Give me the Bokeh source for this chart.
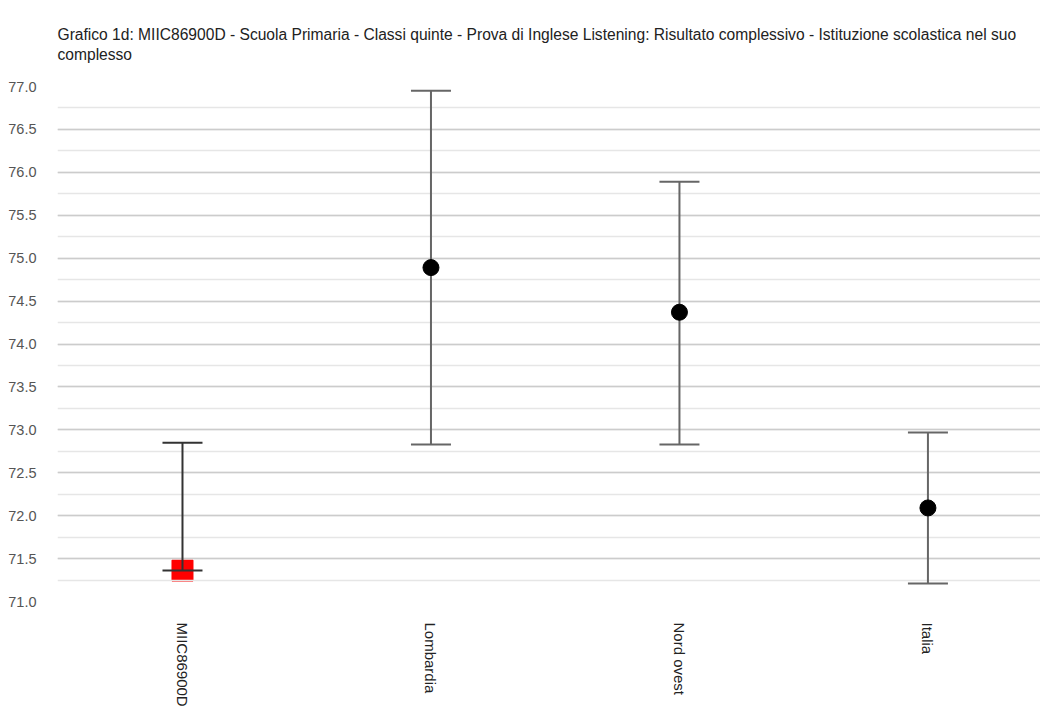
import math
from bokeh.plotting import figure
from bokeh.models import (ColumnDataSource, Range1d, FixedTicker, Whisker, TeeHead,
                          CustomJSTickFormatter)
from bokeh.embed import file_html
from bokeh.resources import INLINE

categories = ["MIIC86900D", "Lombardia", "Nord ovest", "Italia"]
values = [71.36, 74.89, 74.37, 72.09]
lower = [71.36, 72.83, 72.83, 71.21]
upper = [72.85, 76.95, 75.89, 72.97]
y_ticks = [71.0, 71.5, 72.0, 72.5, 73.0, 73.5, 74.0, 74.5, 75.0, 75.5, 76.0, 76.5, 77.0]

FONT = "Liberation Sans"
xs = list(range(len(categories)))

p = figure(width=1040, height=714, output_backend="svg", toolbar_location=None,
           x_range=Range1d(-0.503, 3.453), y_range=Range1d(71.0, 77.0),
           min_border_left=57, min_border_right=0, min_border_bottom=113,
           min_border_top=86)
p.outline_line_color = None

p.title.text = ("Grafico 1d: MIIC86900D - Scuola Primaria - Classi quinte - Prova di Inglese Listening: "
                "Risultato complessivo - Istituzione scolastica nel suo\ncomplesso")
p.title.text_font = FONT
p.title.text_font_size = "15.6px"
p.title.text_font_style = "normal"
p.title.text_color = "#222222"
p.title.text_line_height = 1.15
p.title.standoff = 47

# axes
p.yaxis.ticker = FixedTicker(ticks=y_ticks, minor_ticks=[71.0 + 0.25 * i for i in range(25)])
p.yaxis.formatter = CustomJSTickFormatter(code="return tick.toFixed(1);")
p.yaxis.axis_line_color = None
p.yaxis.major_tick_line_color = None
p.yaxis.minor_tick_line_color = None
p.yaxis.major_label_text_font = FONT
p.yaxis.major_label_text_font_size = "14.5px"
p.yaxis.major_label_text_color = "#555555"
p.yaxis.major_label_standoff = 15

p.xaxis.ticker = FixedTicker(ticks=xs)
p.xaxis.major_label_overrides = {i: c for i, c in zip(xs, categories)}
p.xaxis.major_label_orientation = -math.pi / 2
p.xaxis.axis_line_color = None
p.xaxis.major_tick_line_color = None
p.xaxis.minor_tick_line_color = None
p.xaxis.major_label_text_font = FONT
p.xaxis.major_label_text_font_size = "15px"
p.xaxis.major_label_text_color = "#222222"
p.xaxis.major_label_standoff = 15

p.xgrid.grid_line_color = None
p.ygrid.grid_line_color = "#cccccc"
p.ygrid.grid_line_width = 1.5
p.ygrid.minor_grid_line_color = "#e6e6e6"
p.ygrid.minor_grid_line_width = 1.5

colors_w = ["#333333", "#666666", "#666666", "#666666"]
src = ColumnDataSource(dict(x=xs, v=values, lo=lower, hi=upper, c=colors_w))

w = Whisker(base="x", lower="lo", upper="hi", source=src, dimension="height",
            line_color="c", line_width=2,
            lower_head=TeeHead(size=40, line_color="c", line_width=2),
            upper_head=TeeHead(size=40, line_color="c", line_width=2))
p.add_layout(w)

p.scatter(x=[xs[0]], y=[values[0]], marker="square", size=21, fill_color="#ff0000",
          line_color="#ff0000", level="underlay")
p.scatter(x=xs[1:], y=values[1:], marker="circle", size=16, fill_color="black", line_color="black")

open("out.html", "w").write(file_html(p, INLINE))
